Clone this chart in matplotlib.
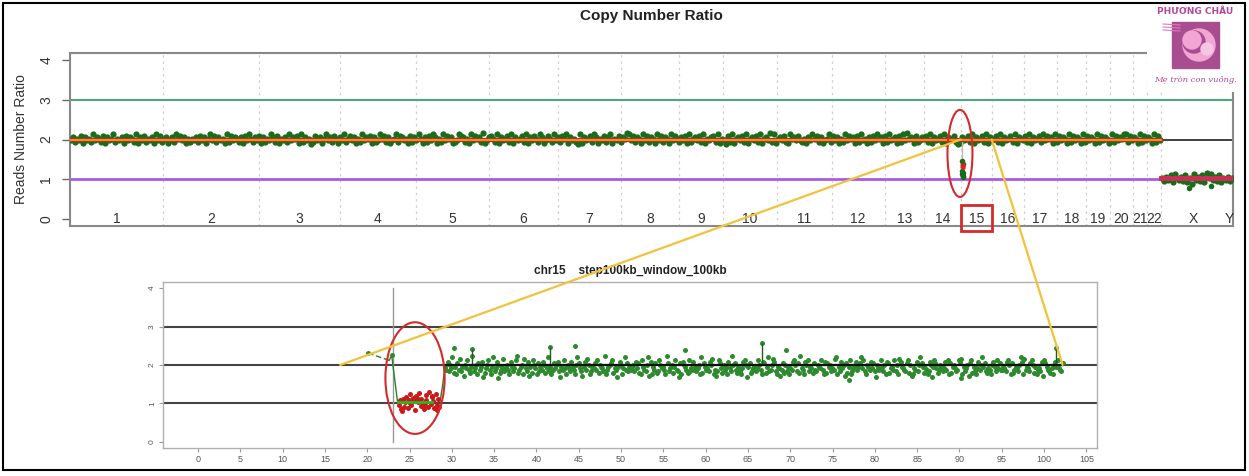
import matplotlib.pyplot as plt
import numpy as np
from matplotlib.patches import Ellipse, Rectangle, Circle, ConnectionPatch

plt.rcParams['font.family'] = ['Liberation Sans', 'DejaVu Sans']

W, H = 1249, 476

# ---- genome-wide panel data ----
chrom_names = [str(i) for i in range(1, 23)] + ['X', 'Y']
chrom_size = [249, 257, 217, 204, 196, 185, 169, 155, 118, 145, 147, 142,
              105, 99, 83, 86, 88, 80, 62, 62, 38, 38, 174, 19]

# autosome ratios, digit d -> 1.84 + 0.036*d
auto_digits = (
    "463547264538465372645835462746538264735462847356246385746253"
    "546374625847364528374653627485364726354863725463846572836451"
    "374625846375264835746253846572634857362458376452736485263748"
    "625384756234876352847563924675382645738264573826475386247538"
    "463758264531826457386254736825473659847365284736528473652847"
    "536472835647382546738254173825647382564738256493825647328564"
    "743526485736245837462538475627384526374856273845627384956273"
    "465738264573826457312645738264573826457382645738265473826457"
    "384756283746528374652837465283746528374658837465283746528374"
)
# X/Y ratios, digit d -> 0.85 + 0.035*d
sex_digits = "5364728546372518463729584637254635"
sex_out_x = [3000, 3060]
sex_out_y = [0.78, 0.84]

# chr15 dip as seen in genome-wide panel (offset into chr15)
dip_green_off = [3, 5, 4, 6, 5, 7, 4]
dip_green_y = [1.45, 1.38, 1.22, 1.15, 1.08, 1.05, 1.12]
dip_red_off = [4, 6, 5]
dip_red_y = [1.33, 1.30, 1.35]

# ---- chr15 zoom panel data ----
lead_x = [20.1, 22.6, 22.9, 23.1, 23.6]
lead_y = [2.31, 2.12, 2.25, 1.88, 1.02]
rise_x = [28.6, 28.9, 29.2]
rise_y = [1.05, 1.45, 2.0]
red_x = [23.7, 23.9, 24.0, 24.2, 24.3, 24.5, 24.6, 24.8, 24.9, 25.1, 25.2,
         25.4, 25.5, 25.7, 25.8, 26.0, 26.1, 26.3, 26.4, 26.6, 26.7, 26.9,
         27.0, 27.2, 27.3, 27.5, 27.6, 27.8, 27.9, 28.1, 28.2, 28.4, 28.5,
         24.1, 25.0, 25.9, 26.8, 27.7, 28.3]
red_y = [0.95, 1.08, 0.85, 1.12, 0.92, 1.05, 1.18, 0.88, 1.10, 1.25, 0.96,
         1.15, 1.08, 0.82, 1.20, 1.05, 1.28, 0.94, 1.12, 1.02, 0.86, 1.22,
         1.10, 0.90, 1.30, 0.98, 1.18, 1.06, 0.88, 1.24, 0.95, 1.12, 0.92,
         0.80, 1.00, 1.14, 0.97, 1.20, 0.84]
# chr15 ratios from 29.2 to 102.2 Mb, letter k (a=0) -> 1.48 + 0.04*k
chr15_letters = (
    "mkpjnlsimhokrjmgnlqkimtjlnhokmpfilnqkhmsjlpnikmrjl"
    "nkhpmjlqtikmnhrljpgmiqnlhojmkpnilsjmhkolnpjfmkqlhn"
    "ljpmkhnsoljgmpkrnhjmlokqinmljthkmnoqilkfmpnhlskojm"
    "kmnjploihqmkjnsgphmkoijqnlmkhtojlnimqkjfohpnmkiqjl"
    "pkmjlnhsiomkljpnrhkgjqolinkmhpljtnokimjhlpqnfmoijl"
    "mjlqnkhpoimsjknrpjhmlgkoinjmhlkpqnjoitlkhpnqjmliok"
    "jnmlqkhpiomnjlkrshmjplngoimqhjlnpkmoslqjhnmkplojfn"
    "lkqmjnhpoilmkqjnhrpmlkjoqinghlkpjnsomilkhjpnmqolik"
    "nmjlpkqhoimnljkqprhmjlngoqimjhlpknsmojilkhnpmjqlok"
    "kmljpqnhoikmljnsphrkmljoqnimhkljpgqomkjilhnpmqlkjo"
)
out_x = [30.3, 32.4, 41.6, 44.6, 57.6, 66.7, 69.5, 77.0, 90.2, 101.4, 35.5, 86.8]
out_y = [2.45, 2.42, 2.47, 2.50, 2.40, 2.57, 2.40, 1.62, 1.65, 2.45, 1.65, 1.68]
spike_x = [32.4, 41.6, 66.7, 101.4]
spike_y = [2.42, 2.47, 2.57, 2.45]

fig = plt.figure(figsize=(W / 100, H / 100), dpi=100)

# ================= top: genome-wide =================
ax = fig.add_axes([70 / W, 1 - 226 / H, 1163 / W, 173 / H])
bounds = np.concatenate([[0], np.cumsum(chrom_size)])
total = bounds[-1]
n_auto = 22
auto_end = bounds[n_auto]
ax.set_xlim(0, total)
ax.set_ylim(-0.176, 4.176)

for b in bounds[1:n_auto + 1]:
    ax.axvline(b, color='#d0d0d0', lw=0.9, ls=(0, (2, 3)), zorder=1)

ax.axhline(3, color='#52a67c', lw=1.5, zorder=2)
ax.axhline(1, color='#a85ce6', lw=2, zorder=2)
ax.axhline(2, color='#333333', lw=1.3, zorder=2)

av = 1.84 + 0.036 * np.array([int(c) for c in auto_digits])
ax_pos = (np.arange(len(av)) + 0.5) / len(av) * auto_end
ax.plot(ax_pos, av, 'o', ms=4.5, color='#1c6b1c', mec='none', zorder=3)

c15 = bounds[14]
ax.plot([c15 + 4, c15 + 4], [1.95, 1.4], color='#bbbbbb', lw=1, zorder=3)
ax.plot(c15 + np.array(dip_green_off), dip_green_y, 'o', ms=4,
        color='#1c6b1c', mec='none', zorder=4)
ax.plot(c15 + np.array(dip_red_off), dip_red_y, 's', ms=3.5,
        color='#e02020', mec='none', zorder=5)

ax.plot([0, auto_end], [2.0, 2.0], color='#b8302a', lw=3, zorder=4)
ax.plot([0, auto_end], [2.0, 2.0], color='#e8a317', lw=1.3, zorder=5)

sv = 0.85 + 0.035 * np.array([int(c) for c in sex_digits])
sx_pos = auto_end + (np.arange(len(sv)) + 0.5) / len(sv) * (total - auto_end)
ax.plot(sx_pos, sv, 'o', ms=4.5, color='#1c6b1c', mec='none', zorder=3)
ax.plot(sex_out_x, sex_out_y, 'o', ms=4, color='#1c6b1c', mec='none', zorder=3)
ax.plot([auto_end, total], [1.02, 1.02], color='#cc2f55', lw=3.5, zorder=4)

mids = (bounds[:-1] + bounds[1:]) / 2
for m, name in zip(mids, chrom_names):
    ax.text(m, 0.0, name, ha='center', va='center', fontsize=10, color='#333333')

ax.set_xticks([])
ax.set_yticks([0, 1, 2, 3, 4])
ax.set_yticklabels(['0', '1', '2', '3', '4'], rotation=90, va='center',
                   fontsize=10, color='#333333')
ax.tick_params(axis='y', length=6, width=1, color='#666666', pad=6)
ax.set_ylabel('Reads Number Ratio', fontsize=10, color='#333333', labelpad=8)
for s in ax.spines.values():
    s.set_color('#888888')
    s.set_linewidth(1.5)

ax.add_patch(Ellipse((2386, 1.65), 67, 2.19, fill=False, ec='#d42a2a',
                     lw=1.5, zorder=6))
ax.add_patch(Rectangle((c15, -0.30), chrom_size[14], 0.65, fill=False,
                       ec='#d42a2a', lw=2, clip_on=False, zorder=6))

fig.text(651 / W, 1 - 16 / H, 'Copy Number Ratio', ha='center', va='center',
         fontsize=11, fontweight='bold', color='#222222')

# ================= bottom: chr15 =================
bx = fig.add_axes([163 / W, 1 - 448 / H, 934 / W, 166 / H])
bx.set_xlim(-4.14, 106.26)
bx.set_ylim(-0.156, 4.156)
for yv in (1, 2, 3):
    bx.axhline(yv, color='#444444', lw=1.5, zorder=1)
bx.plot([23.0, 23.0], [0, 4], color='#999999', lw=1, zorder=1)

gv = 1.48 + 0.04 * np.array([ord(c) - ord('a') for c in chr15_letters])
gx = np.linspace(29.2, 102.2, len(gv))
bx.plot(gx, gv, 'o', ms=3.6, color='#2e8a2e', mec='none', zorder=3)
bx.plot(out_x, out_y, 'o', ms=3.6, color='#2e8a2e', mec='none', zorder=3)
bx.vlines(spike_x, 2.0, spike_y, color='#1f5f1f', lw=1, zorder=3)
bx.plot([29.2, 102.2], [2.0, 2.0], color='#111111', lw=1.6, zorder=4)

bx.plot(lead_x[:2], lead_y[:2], color='#2e7d2e', lw=1, ls=(0, (4, 2)), zorder=3)
bx.plot(lead_x[1:], lead_y[1:], color='#2e7d2e', lw=1, zorder=3)
bx.plot([lead_x[0], lead_x[2]], [lead_y[0], lead_y[2]], 'o', ms=3.6,
        color='#2e8b2e', mec='none', zorder=3)
bx.plot(rise_x, rise_y, color='#2e7d2e', lw=1, zorder=3)
bx.plot(red_x, red_y, 'o', ms=3.6, color='#cc1818', mec='none', zorder=4)
bx.plot([23.6, 27.6], [1.03, 1.03], color='#22bb22', lw=2, zorder=5)

bx.add_patch(Ellipse((25.65, 1.66), 7.0, 2.9, fill=False, ec='#d42a2a',
                     lw=1.5, zorder=6))

bx.set_xticks(np.arange(0, 106, 5))
bx.set_xticklabels([str(v) for v in range(0, 106, 5)], fontsize=6.5, color='#555555')
bx.set_yticks([0, 1, 2, 3, 4])
bx.set_yticklabels(['0', '1', '2', '3', '4'], rotation=90, va='center',
                   fontsize=6, color='#555555')
bx.tick_params(length=3, width=0.8, color='#999999', pad=2)
for s in bx.spines.values():
    s.set_color('#b0b0b0')
    s.set_linewidth(1)
fig.text(630 / W, 1 - 271 / H, 'chr15    step100kb_window_100kb', ha='center',
         va='center', fontsize=8.5, fontweight='bold', color='#222222')

# zoom connectors
for xa, xb in ((c15, 16.8), (bounds[15], 102.2)):
    con = ConnectionPatch(xyA=(xa, 2.0), coordsA=ax.transData,
                          xyB=(xb, 2.0), coordsB=bx.transData,
                          color='#f2c23a', lw=1.6, zorder=10)
    fig.add_artist(con)

# ================= logo =================
lg = fig.add_axes([1147 / W, 1 - 92 / H, 98 / W, 88 / H], zorder=5)
lg.set_xlim(1147, 1245)
lg.set_ylim(92, 4)
lg.set_xticks([])
lg.set_yticks([])
for s in lg.spines.values():
    s.set_visible(False)
lg.text(1195, 12, 'PHƯƠNG CHÂU', ha='center', va='center', fontsize=6.5,
        fontweight='bold', color='#b4489c', family=['DejaVu Sans'])
lg.add_patch(Rectangle((1172, 22), 47, 46, color='#a84d8f'))
lg.add_patch(Circle((1199, 45), 16, color='#f2a6d4'))
lg.add_patch(Circle((1194, 42), 11, color='#a84d8f'))
lg.add_patch(Circle((1192, 40), 9, color='#f2a6d4'))
lg.add_patch(Circle((1207, 49), 6, color='#f7c6e4'))
for yy in (24, 27, 30):
    lg.plot([1163, 1180], [yy, yy + 1], color='#e07ac0', lw=0.8)
lg.text(1196, 80, 'Mẹ tròn con vuông.', ha='center', va='center', fontsize=6,
        style='italic', color='#b4489c', family=['DejaVu Serif'])

# outer frame
fig.add_artist(Rectangle((3 / W, 1 - 470 / H), 1242 / W, 467 / H,
                         transform=fig.transFigure, fill=False, ec='black',
                         lw=1.5, zorder=20))

fig.savefig('out.png', dpi=100)
